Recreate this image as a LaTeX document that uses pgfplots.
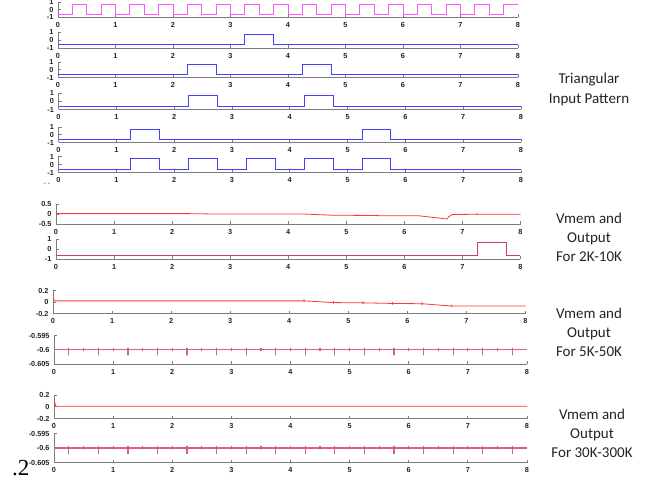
\documentclass[border=0pt]{standalone}
\usepackage{fontspec}
\setmainfont{Liberation Sans}
\newfontfamily\carl{Carlito}
\newfontfamily\lserif{Liberation Serif}
\usepackage{pgfplots}
\usepackage{pgfplotstable}
\pgfplotsset{compat=1.18}
\definecolor{axgray}{RGB}{125,125,125}
\definecolor{pinkc}{RGB}{255,85,255}
\definecolor{bluec}{RGB}{65,65,255}
\definecolor{vmemc}{RGB}{255,55,55}
\definecolor{outc}{RGB}{205,65,95}
\definecolor{outlinec}{RGB}{215,95,120}
\definecolor{txt}{RGB}{35,35,35}

\pgfplotstableread[row sep=\\]{
x y\\
0 -0.6\\
0.25 -0.6\\ 0.25 -0.5993\\ 0.25 -0.602\\ 0.25 -0.6\\
0.5 -0.6\\ 0.5 -0.5993\\ 0.5 -0.6005\\ 0.5 -0.6\\
0.75 -0.6\\ 0.75 -0.5993\\ 0.75 -0.602\\ 0.75 -0.6\\
1 -0.6\\ 1 -0.5993\\ 1 -0.6005\\ 1 -0.6\\
1.25 -0.6\\ 1.25 -0.5993\\ 1.25 -0.602\\ 1.25 -0.6\\
1.5 -0.6\\ 1.5 -0.5993\\ 1.5 -0.6005\\ 1.5 -0.6\\
1.75 -0.6\\ 1.75 -0.5993\\ 1.75 -0.602\\ 1.75 -0.6\\
2 -0.6\\ 2 -0.5993\\ 2 -0.6005\\ 2 -0.6\\
2.25 -0.6\\ 2.25 -0.5993\\ 2.25 -0.602\\ 2.25 -0.6\\
2.5 -0.6\\ 2.5 -0.5993\\ 2.5 -0.6005\\ 2.5 -0.6\\
2.75 -0.6\\ 2.75 -0.5993\\ 2.75 -0.602\\ 2.75 -0.6\\
3 -0.6\\ 3 -0.5993\\ 3 -0.6005\\ 3 -0.6\\
3.25 -0.6\\ 3.25 -0.5993\\ 3.25 -0.602\\ 3.25 -0.6\\
3.5 -0.6\\ 3.5 -0.5993\\ 3.5 -0.6005\\ 3.5 -0.6\\
3.75 -0.6\\ 3.75 -0.5993\\ 3.75 -0.602\\ 3.75 -0.6\\
4 -0.6\\ 4 -0.5993\\ 4 -0.6005\\ 4 -0.6\\
4.25 -0.6\\ 4.25 -0.5993\\ 4.25 -0.602\\ 4.25 -0.6\\
4.5 -0.6\\ 4.5 -0.5993\\ 4.5 -0.6005\\ 4.5 -0.6\\
4.75 -0.6\\ 4.75 -0.5993\\ 4.75 -0.602\\ 4.75 -0.6\\
5 -0.6\\ 5 -0.5993\\ 5 -0.6005\\ 5 -0.6\\
5.25 -0.6\\ 5.25 -0.5993\\ 5.25 -0.602\\ 5.25 -0.6\\
5.5 -0.6\\ 5.5 -0.5993\\ 5.5 -0.6005\\ 5.5 -0.6\\
5.75 -0.6\\ 5.75 -0.5993\\ 5.75 -0.602\\ 5.75 -0.6\\
6 -0.6\\ 6 -0.5993\\ 6 -0.6005\\ 6 -0.6\\
6.25 -0.6\\ 6.25 -0.5993\\ 6.25 -0.602\\ 6.25 -0.6\\
6.5 -0.6\\ 6.5 -0.5993\\ 6.5 -0.6005\\ 6.5 -0.6\\
6.75 -0.6\\ 6.75 -0.5993\\ 6.75 -0.602\\ 6.75 -0.6\\
7 -0.6\\ 7 -0.5993\\ 7 -0.6005\\ 7 -0.6\\
7.25 -0.6\\ 7.25 -0.5993\\ 7.25 -0.602\\ 7.25 -0.6\\
7.5 -0.6\\ 7.5 -0.5993\\ 7.5 -0.6005\\ 7.5 -0.6\\
7.75 -0.6\\ 7.75 -0.5993\\ 7.75 -0.602\\ 7.75 -0.6\\
8 -0.6\\
}\spikes

\pgfplotsset{
 sub/.style={scale only axis, anchor=south west, xmin=0, xmax=8,
   enlargelimits=false, axis x line*=bottom, axis y line*=left,
   axis line style={axgray, line width=0.9pt},
   tick style={axgray, line width=0.8pt}, tick align=inside,
   major tick length=3pt,
   xtick={0,1,2,3,4,5,6,7,8}, xticklabels={0,1,2,3,4,5,6,7,8},
   ticklabel style={font=\bfseries\fontsize{7.3}{8}\selectfont, text=txt},
   x tick label style={yshift=-1.5pt}, y tick label style={xshift=-1pt}},
 bin/.style={sub, ymin=-1, ymax=1, ytick={-1,0,1}, yticklabels={-1,0,1}},
 sig/.style={const plot, line width=0.9pt},
 outaxis/.style={sub, ymin=-0.605, ymax=-0.595, ytick={-0.605,-0.6,-0.595},
   yticklabels={-0.605,-0.6,-0.595}},
}

\begin{document}
\begin{tikzpicture}
\useasboundingbox (0,0) rectangle (652pt,480pt);

% A1 pink
\begin{axis}[bin, at={(58pt,463pt)}, width=460pt, height=15pt]
\addplot[sig, pinkc] coordinates {(0,-0.6)(0.25,0.7)(0.5,-0.6)(0.75,0.7)(1,-0.6)(1.25,0.7)(1.5,-0.6)(1.75,0.7)(2,-0.6)(2.25,0.7)(2.5,-0.6)(2.75,0.7)(3,-0.6)(3.25,0.7)(3.5,-0.6)(3.75,0.7)(4,-0.6)(4.25,0.7)(4.5,-0.6)(4.75,0.7)(5,-0.6)(5.25,0.7)(5.5,-0.6)(5.75,0.7)(6,-0.6)(6.25,0.7)(6.5,-0.6)(6.75,0.7)(7,-0.6)(7.25,0.7)(7.5,-0.6)(7.75,0.7)(8,0.7)};
\end{axis}
% A2
\begin{axis}[bin, at={(58pt,432pt)}, width=460pt, height=16pt]
\addplot[sig, bluec] coordinates {(0,-0.6)(3.25,0.7)(3.75,-0.6)(8,-0.6)};
\end{axis}
% A3
\begin{axis}[bin, at={(58pt,402.5pt)}, width=460pt, height=15.5pt]
\addplot[sig, bluec] coordinates {(0,-0.6)(2.25,0.7)(2.75,-0.6)(4.25,0.7)(4.75,-0.6)(8,-0.6)};
\end{axis}
% A4
\begin{axis}[bin, at={(58.5pt,370.5pt)}, width=462.5pt, height=16.5pt]
\addplot[sig, bluec] coordinates {(0,-0.6)(2.25,0.7)(2.75,-0.6)(4.25,0.7)(4.75,-0.6)(8,-0.6)};
\end{axis}
% A5
\begin{axis}[bin, at={(58.5pt,337.5pt)}, width=462.5pt, height=15.5pt]
\addplot[sig, bluec] coordinates {(0,-0.6)(1.25,0.7)(1.75,-0.6)(5.25,0.7)(5.75,-0.6)(8,-0.6)};
\end{axis}
% A6
\begin{axis}[bin, at={(58.5pt,307.5pt)}, width=462.5pt, height=16pt]
\addplot[sig, bluec] coordinates {(0,-0.6)(1.25,0.7)(1.75,-0.6)(2.25,0.7)(2.75,-0.6)(3.25,0.7)(3.75,-0.6)(4.25,0.7)(4.75,-0.6)(5.25,0.7)(5.75,-0.6)(8,-0.6)};
\end{axis}

% A7 Vmem 2K-10K
\begin{axis}[sub, at={(56pt,256pt)}, width=464.5pt, height=20pt,
  ymin=-0.5, ymax=0.5, ytick={-0.5,0,0.5}, yticklabels={-0.5,0,0.5}]
\addplot[vmemc, line width=0.8pt] coordinates {(0,0.08)(0.02,0.02)(2.25,0.02)(2.75,0.0)(4.25,0.0)(4.75,-0.06)(5.25,-0.07)(5.75,-0.09)(6.25,-0.09)(6.74,-0.25)(6.76,-0.14)(6.82,-0.03)(7.25,-0.01)(7.25,0.04)(7.25,-0.05)(7.25,-0.01)(8,-0.01)};
\end{axis}
% A8 Output 2K-10K
\begin{axis}[bin, at={(56pt,221pt)}, width=464.5pt, height=20pt]
\addplot[sig, outc] coordinates {(0,-0.65)(7.25,0.7)(7.75,-0.65)(8,-0.65)};
\end{axis}

% A9 Vmem 5K-50K
\begin{axis}[sub, at={(53pt,166.5pt)}, width=472.5pt, height=23pt,
  ymin=-0.2, ymax=0.2, ytick={-0.2,0,0.2}, yticklabels={-0.2,0,0.2}]
\addplot[vmemc, line width=0.8pt] coordinates {(0,0.12)(0.02,0.02)(4.25,0.02)(4.25,0.045)(4.25,0.0)(4.25,0.02)(4.75,-0.01)(4.75,0.015)(4.75,-0.03)(4.75,-0.01)(5.25,-0.015)(5.25,0.01)(5.25,-0.035)(5.25,-0.015)(5.75,-0.025)(5.75,0.0)(5.75,-0.045)(5.75,-0.025)(6.25,-0.03)(6.25,-0.005)(6.25,-0.05)(6.25,-0.03)(6.75,-0.07)(6.75,-0.045)(6.75,-0.09)(6.75,-0.07)(8,-0.07)};
\end{axis}
% A10 Output 5K-50K
\begin{axis}[outaxis, at={(54pt,116pt)}, width=473pt, height=28.5pt]
\addplot[outlinec, line width=1.2pt] table[x=x,y=y] {\spikes};
\end{axis}

% A11 Vmem 30K-300K
\begin{axis}[sub, at={(54pt,61.5pt)}, width=473pt, height=23.5pt,
  ymin=-0.2, ymax=0.2, ytick={-0.2,0,0.2}, yticklabels={-0.2,0,0.2}]
\addplot[vmemc, line width=0.8pt] coordinates {(0,0.12)(0.03,0.01)(8,0.01)};
\end{axis}
% A12 Output 30K-300K
\begin{axis}[outaxis, at={(54pt,17.5pt)}, width=473pt, height=29pt]
\addplot[outlinec, line width=1.2pt] table[x=x,y=y] {\spikes};
\end{axis}

% right-hand captions
\node[align=center, text=txt, font=\carl\fontsize{15}{19.5}\selectfont] at (589pt,390.5pt) {Triangular\\Input Pattern};
\node[align=center, text=txt, font=\carl\fontsize{15}{19}\selectfont] at (589pt,243pt) {Vmem and\\Output\\For 2K-10K};
\node[align=center, text=txt, font=\carl\fontsize{15}{19}\selectfont] at (589pt,147.7pt) {Vmem and\\Output\\For 5K-50K};
\node[align=center, text=txt, font=\carl\fontsize{15}{19}\selectfont] at (592pt,46.5pt) {Vmem and\\Output\\For 30K-300K};

% stray fragments
\node[anchor=base west, inner sep=0pt, font=\lserif\fontsize{23}{23}\selectfont] at (12pt,5pt) {.2};
\node[inner sep=0pt, text=axgray, font=\bfseries\fontsize{7}{8}\selectfont] at (47pt,296pt) {- -};
\end{tikzpicture}
\end{document}
